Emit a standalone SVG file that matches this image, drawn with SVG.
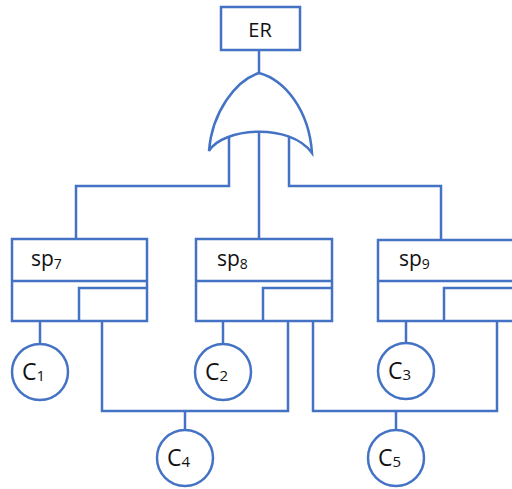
<svg xmlns="http://www.w3.org/2000/svg" width="512" height="489" viewBox="0 0 512 489">
<style>
.s{fill:none;stroke:#4472C4;stroke-width:2.5;stroke-linejoin:miter}
.n{fill:#fff;stroke:#4472C4;stroke-width:2.5}
.t{font-family:"Open Sans","Liberation Sans",sans-serif;fill:#111}
</style>
<rect width="512" height="489" fill="#fff"/>
<g id="connectors" class="s">
<path d="M259,50 V73"/>
<path d="M229,134 V186 H76 V239"/>
<path d="M259,129 V239"/>
<path d="M289,135 V186 H441 V239"/>
<path d="M40,321 V344"/>
<path d="M223,321 V344"/>
<path d="M406,321 V343"/>
<path d="M102,321 V411 H288 V321"/>
<path d="M185,411 V430"/>
<path d="M313,321 V411 H497 V321"/>
<path d="M396,411 V430"/>
</g>
<g id="ER">
<rect class="n" x="221" y="7" width="79" height="43"/>
<text class="t" x="260" y="37" font-size="20" text-anchor="middle">ER</text>
</g>
<g id="gate">
<path class="n" d="M259,73 C236,80 212,112 209,151 C222,128 290,122 312,153 C309,110 285,80 259,73 Z"/>
</g>
<g id="sp7">
<rect class="n" x="12" y="239" width="135" height="82"/>
<path class="s" d="M12,281 H147 M79,321 V288 H147"/>
<text class="t" x="31" y="266" font-size="21">sp<tspan font-size="14" dy="3">7</tspan></text>
</g>
<g id="sp8">
<rect class="n" x="196" y="239" width="136" height="82"/>
<path class="s" d="M196,281 H332 M263,321 V288 H332"/>
<text class="t" x="217" y="266" font-size="21">sp<tspan font-size="14" dy="3">8</tspan></text>
</g>
<g id="sp9">
<rect class="n" x="378" y="240" width="136" height="81"/>
<path class="s" d="M378,281 H514 M444,321 V288 H514"/>
<text class="t" x="399" y="266" font-size="21">sp<tspan font-size="14" dy="3">9</tspan></text>
</g>
<g id="C1">
<circle class="n" cx="40" cy="372" r="28"/>
<text class="t" x="22" y="380" font-size="23">C<tspan font-size="15" dy="1">1</tspan></text>
</g>
<g id="C2">
<circle class="n" cx="223" cy="372" r="28"/>
<text class="t" x="205" y="380" font-size="23">C<tspan font-size="15" dy="1">2</tspan></text>
</g>
<g id="C3">
<circle class="n" cx="406" cy="371" r="28"/>
<text class="t" x="388" y="379" font-size="23">C<tspan font-size="15" dy="1">3</tspan></text>
</g>
<g id="C4">
<circle class="n" cx="185" cy="458" r="28"/>
<text class="t" x="167" y="466" font-size="23">C<tspan font-size="15" dy="1">4</tspan></text>
</g>
<g id="C5">
<circle class="n" cx="396" cy="458" r="28"/>
<text class="t" x="378" y="466" font-size="23">C<tspan font-size="15" dy="1">5</tspan></text>
</g>
</svg>
